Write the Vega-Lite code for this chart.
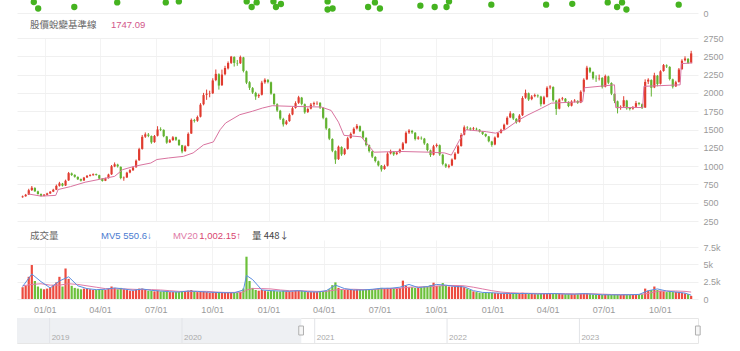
{
"$schema":"https://vega.github.io/schema/vega-lite/v6.json",
"padding":{"left":16,"top":0,"right":0,"bottom":0},
"background":"white",
"bounds":"flush",
"spacing":19,
"config":{"view":{"stroke":null},"axis":{"domain":false,"ticks":false,"title":null,"labelOverlap":false,"labelFont":"Liberation Sans","labelFontSize":9,"labelColor":"#9a9a9a","gridColor":"#f0f0f0","gridWidth":1}},
"datasets":{
"k":[
{"d":"2020-11-26","o":575,"h":598,"l":568,"c":586,"v":1700},
{"d":"2020-12-01","o":588,"h":620,"l":582,"c":608,"v":1900},
{"d":"2020-12-06","o":610,"h":690,"l":605,"c":670,"v":3200},
{"d":"2020-12-11","o":672,"h":728,"l":660,"c":705,"v":4900},
{"d":"2020-12-16","o":700,"h":712,"l":648,"c":656,"v":2600},
{"d":"2020-12-21","o":655,"h":664,"l":610,"c":619,"v":1800},
{"d":"2020-12-26","o":618,"h":626,"l":585,"c":592,"v":1500},
{"d":"2020-12-31","o":594,"h":618,"l":588,"c":610,"v":1400},
{"d":"2021-01-05","o":608,"h":636,"l":600,"c":627,"v":1500},
{"d":"2021-01-10","o":626,"h":660,"l":620,"c":650,"v":1700},
{"d":"2021-01-15","o":652,"h":690,"l":645,"c":677,"v":2000},
{"d":"2021-01-20","o":678,"h":748,"l":672,"c":730,"v":2400},
{"d":"2021-01-25","o":732,"h":785,"l":720,"c":764,"v":3200},
{"d":"2021-01-30","o":760,"h":770,"l":722,"c":733,"v":1800},
{"d":"2021-02-04","o":735,"h":815,"l":728,"c":800,"v":4400},
{"d":"2021-02-09","o":805,"h":920,"l":798,"c":904,"v":2900},
{"d":"2021-02-14","o":900,"h":912,"l":866,"c":878,"v":1900},
{"d":"2021-02-19","o":880,"h":888,"l":842,"c":854,"v":1600},
{"d":"2021-02-24","o":852,"h":860,"l":810,"c":820,"v":1500},
{"d":"2021-03-01","o":822,"h":830,"l":790,"c":801,"v":1400},
{"d":"2021-03-06","o":803,"h":852,"l":798,"c":843,"v":1500},
{"d":"2021-03-11","o":845,"h":878,"l":838,"c":867,"v":1500},
{"d":"2021-03-16","o":866,"h":890,"l":858,"c":878,"v":1400},
{"d":"2021-03-21","o":876,"h":900,"l":868,"c":889,"v":1300},
{"d":"2021-03-26","o":890,"h":898,"l":870,"c":878,"v":1300},
{"d":"2021-03-31","o":876,"h":882,"l":822,"c":830,"v":1400},
{"d":"2021-04-05","o":828,"h":836,"l":788,"c":797,"v":1300},
{"d":"2021-04-10","o":800,"h":842,"l":795,"c":832,"v":1300},
{"d":"2021-04-15","o":835,"h":896,"l":830,"c":885,"v":1500},
{"d":"2021-04-20","o":888,"h":1015,"l":880,"c":998,"v":1800},
{"d":"2021-04-25","o":995,"h":1050,"l":985,"c":1025,"v":1600},
{"d":"2021-04-30","o":1020,"h":1032,"l":980,"c":997,"v":1400},
{"d":"2021-05-05","o":990,"h":996,"l":820,"c":837,"v":1600},
{"d":"2021-05-10","o":835,"h":858,"l":800,"c":842,"v":1400},
{"d":"2021-05-15","o":845,"h":922,"l":838,"c":910,"v":1300},
{"d":"2021-05-20","o":912,"h":958,"l":902,"c":945,"v":1200},
{"d":"2021-05-25","o":943,"h":995,"l":935,"c":981,"v":1200},
{"d":"2021-05-30","o":984,"h":1090,"l":978,"c":1074,"v":1300},
{"d":"2021-06-04","o":1080,"h":1250,"l":1072,"c":1231,"v":1500},
{"d":"2021-06-09","o":1235,"h":1425,"l":1225,"c":1400,"v":1500},
{"d":"2021-06-14","o":1402,"h":1460,"l":1385,"c":1434,"v":1300},
{"d":"2021-06-19","o":1430,"h":1452,"l":1395,"c":1414,"v":1200},
{"d":"2021-06-24","o":1410,"h":1418,"l":1305,"c":1324,"v":1200},
{"d":"2021-06-29","o":1328,"h":1425,"l":1318,"c":1411,"v":1100},
{"d":"2021-07-04","o":1415,"h":1545,"l":1405,"c":1500,"v":1200},
{"d":"2021-07-09","o":1505,"h":1530,"l":1478,"c":1497,"v":1100},
{"d":"2021-07-14","o":1495,"h":1502,"l":1395,"c":1409,"v":1100},
{"d":"2021-07-19","o":1405,"h":1412,"l":1305,"c":1321,"v":1100},
{"d":"2021-07-24","o":1325,"h":1370,"l":1315,"c":1353,"v":1000},
{"d":"2021-07-29","o":1355,"h":1410,"l":1345,"c":1393,"v":1000},
{"d":"2021-08-03","o":1395,"h":1402,"l":1345,"c":1360,"v":1000},
{"d":"2021-08-08","o":1358,"h":1365,"l":1275,"c":1288,"v":1000},
{"d":"2021-08-13","o":1285,"h":1290,"l":1175,"c":1200,"v":1100},
{"d":"2021-08-18","o":1205,"h":1285,"l":1195,"c":1270,"v":1100},
{"d":"2021-08-23","o":1275,"h":1460,"l":1268,"c":1440,"v":1200},
{"d":"2021-08-28","o":1445,"h":1650,"l":1440,"c":1631,"v":1300},
{"d":"2021-09-02","o":1628,"h":1645,"l":1595,"c":1617,"v":1100},
{"d":"2021-09-07","o":1620,"h":1690,"l":1605,"c":1670,"v":1000},
{"d":"2021-09-12","o":1675,"h":1860,"l":1665,"c":1839,"v":1100},
{"d":"2021-09-17","o":1845,"h":2000,"l":1830,"c":1970,"v":1100},
{"d":"2021-09-22","o":1975,"h":2045,"l":1905,"c":1990,"v":1000},
{"d":"2021-09-27","o":1985,"h":2030,"l":1940,"c":1990,"v":900},
{"d":"2021-10-02","o":1995,"h":2200,"l":1985,"c":2170,"v":1000},
{"d":"2021-10-07","o":2175,"h":2320,"l":2160,"c":2260,"v":1000},
{"d":"2021-10-12","o":2255,"h":2268,"l":2045,"c":2100,"v":1000},
{"d":"2021-10-17","o":2105,"h":2318,"l":2095,"c":2250,"v":900},
{"d":"2021-10-22","o":2255,"h":2370,"l":2240,"c":2340,"v":900},
{"d":"2021-10-27","o":2335,"h":2430,"l":2320,"c":2408,"v":900},
{"d":"2021-11-01","o":2410,"h":2505,"l":2395,"c":2495,"v":900},
{"d":"2021-11-06","o":2490,"h":2500,"l":2360,"c":2410,"v":900},
{"d":"2021-11-11","o":2405,"h":2450,"l":2370,"c":2400,"v":900},
{"d":"2021-11-16","o":2405,"h":2510,"l":2395,"c":2490,"v":1000},
{"d":"2021-11-21","o":2485,"h":2492,"l":2280,"c":2300,"v":1500},
{"d":"2021-11-26","o":2295,"h":2305,"l":2120,"c":2140,"v":6100},
{"d":"2021-12-01","o":2145,"h":2160,"l":2040,"c":2070,"v":2600},
{"d":"2021-12-06","o":2065,"h":2080,"l":1985,"c":2005,"v":1600},
{"d":"2021-12-11","o":2000,"h":2015,"l":1905,"c":1950,"v":1300},
{"d":"2021-12-16","o":1955,"h":1990,"l":1930,"c":1970,"v":1200},
{"d":"2021-12-21","o":1975,"h":2165,"l":1965,"c":2140,"v":1300},
{"d":"2021-12-26","o":2145,"h":2200,"l":2125,"c":2180,"v":1200},
{"d":"2021-12-31","o":2175,"h":2190,"l":2130,"c":2150,"v":1100},
{"d":"2022-01-05","o":2145,"h":2155,"l":1975,"c":1990,"v":1200},
{"d":"2022-01-10","o":1985,"h":1995,"l":1830,"c":1850,"v":1200},
{"d":"2022-01-15","o":1845,"h":1858,"l":1740,"c":1760,"v":1100},
{"d":"2022-01-20","o":1755,"h":1768,"l":1630,"c":1650,"v":1100},
{"d":"2022-01-25","o":1645,"h":1660,"l":1540,"c":1570,"v":1200},
{"d":"2022-01-30","o":1575,"h":1630,"l":1560,"c":1610,"v":1100},
{"d":"2022-02-04","o":1615,"h":1720,"l":1605,"c":1700,"v":1100},
{"d":"2022-02-09","o":1705,"h":1810,"l":1695,"c":1790,"v":1100},
{"d":"2022-02-14","o":1795,"h":1885,"l":1785,"c":1860,"v":1200},
{"d":"2022-02-19","o":1865,"h":1960,"l":1850,"c":1940,"v":1200},
{"d":"2022-02-24","o":1935,"h":1945,"l":1830,"c":1850,"v":1200},
{"d":"2022-03-01","o":1845,"h":1855,"l":1715,"c":1735,"v":1100},
{"d":"2022-03-06","o":1740,"h":1800,"l":1725,"c":1780,"v":1000},
{"d":"2022-03-11","o":1785,"h":1862,"l":1775,"c":1840,"v":1000},
{"d":"2022-03-16","o":1845,"h":1880,"l":1820,"c":1861,"v":1000},
{"d":"2022-03-21","o":1858,"h":1885,"l":1835,"c":1861,"v":1000},
{"d":"2022-03-26","o":1865,"h":1872,"l":1780,"c":1800,"v":1000},
{"d":"2022-03-31","o":1795,"h":1805,"l":1640,"c":1660,"v":1100},
{"d":"2022-04-05","o":1655,"h":1665,"l":1495,"c":1515,"v":1200},
{"d":"2022-04-10","o":1510,"h":1520,"l":1355,"c":1375,"v":1400},
{"d":"2022-04-15","o":1370,"h":1380,"l":1190,"c":1210,"v":2000},
{"d":"2022-04-20","o":1205,"h":1215,"l":1030,"c":1090,"v":2400},
{"d":"2022-04-25","o":1095,"h":1280,"l":1085,"c":1265,"v":1600},
{"d":"2022-04-30","o":1260,"h":1270,"l":1140,"c":1160,"v":1300},
{"d":"2022-05-05","o":1165,"h":1248,"l":1150,"c":1230,"v":1300},
{"d":"2022-05-10","o":1235,"h":1400,"l":1225,"c":1380,"v":1300},
{"d":"2022-05-15","o":1385,"h":1460,"l":1375,"c":1440,"v":1300},
{"d":"2022-05-20","o":1445,"h":1530,"l":1435,"c":1510,"v":1300},
{"d":"2022-05-25","o":1515,"h":1575,"l":1500,"c":1550,"v":1400},
{"d":"2022-05-30","o":1545,"h":1555,"l":1465,"c":1480,"v":1300},
{"d":"2022-06-04","o":1475,"h":1485,"l":1370,"c":1390,"v":1300},
{"d":"2022-06-09","o":1385,"h":1395,"l":1270,"c":1290,"v":1300},
{"d":"2022-06-14","o":1285,"h":1295,"l":1185,"c":1205,"v":1300},
{"d":"2022-06-19","o":1200,"h":1210,"l":1110,"c":1130,"v":1400},
{"d":"2022-06-24","o":1125,"h":1135,"l":1050,"c":1070,"v":1400},
{"d":"2022-06-29","o":1065,"h":1075,"l":995,"c":1010,"v":1500},
{"d":"2022-07-04","o":1005,"h":1015,"l":925,"c":955,"v":1600},
{"d":"2022-07-09","o":960,"h":1020,"l":950,"c":1000,"v":1500},
{"d":"2022-07-14","o":1005,"h":1190,"l":995,"c":1170,"v":1600},
{"d":"2022-07-19","o":1175,"h":1225,"l":1160,"c":1200,"v":1600},
{"d":"2022-07-24","o":1195,"h":1205,"l":1140,"c":1160,"v":1500},
{"d":"2022-07-29","o":1165,"h":1200,"l":1150,"c":1185,"v":1500},
{"d":"2022-08-03","o":1190,"h":1240,"l":1175,"c":1225,"v":1600},
{"d":"2022-08-08","o":1230,"h":1330,"l":1220,"c":1310,"v":2650},
{"d":"2022-08-13","o":1315,"h":1475,"l":1305,"c":1455,"v":1900},
{"d":"2022-08-18","o":1460,"h":1505,"l":1440,"c":1485,"v":1700},
{"d":"2022-08-23","o":1480,"h":1495,"l":1440,"c":1460,"v":1700},
{"d":"2022-08-28","o":1455,"h":1465,"l":1350,"c":1370,"v":1600},
{"d":"2022-09-02","o":1375,"h":1410,"l":1360,"c":1390,"v":1600},
{"d":"2022-09-07","o":1385,"h":1405,"l":1360,"c":1380,"v":1700},
{"d":"2022-09-12","o":1375,"h":1385,"l":1290,"c":1310,"v":1800},
{"d":"2022-09-17","o":1305,"h":1315,"l":1200,"c":1220,"v":1800},
{"d":"2022-09-22","o":1215,"h":1225,"l":1125,"c":1150,"v":2000},
{"d":"2022-09-27","o":1155,"h":1290,"l":1145,"c":1270,"v":2350},
{"d":"2022-10-02","o":1275,"h":1310,"l":1255,"c":1290,"v":1900},
{"d":"2022-10-07","o":1285,"h":1295,"l":1140,"c":1160,"v":1900},
{"d":"2022-10-12","o":1155,"h":1165,"l":1010,"c":1030,"v":2300},
{"d":"2022-10-17","o":1025,"h":1040,"l":975,"c":995,"v":1900},
{"d":"2022-10-22","o":990,"h":1025,"l":970,"c":1005,"v":1800},
{"d":"2022-10-27","o":1008,"h":1105,"l":1000,"c":1090,"v":1800},
{"d":"2022-11-01","o":1095,"h":1190,"l":1085,"c":1170,"v":1800},
{"d":"2022-11-06","o":1175,"h":1290,"l":1165,"c":1270,"v":1900},
{"d":"2022-11-11","o":1275,"h":1450,"l":1265,"c":1425,"v":1900},
{"d":"2022-11-16","o":1430,"h":1555,"l":1420,"c":1530,"v":1700},
{"d":"2022-11-21","o":1525,"h":1545,"l":1495,"c":1520,"v":1500},
{"d":"2022-11-26","o":1515,"h":1530,"l":1485,"c":1500,"v":1300},
{"d":"2022-12-01","o":1505,"h":1535,"l":1490,"c":1515,"v":1100},
{"d":"2022-12-06","o":1510,"h":1525,"l":1485,"c":1500,"v":1000},
{"d":"2022-12-11","o":1498,"h":1505,"l":1460,"c":1473,"v":900},
{"d":"2022-12-16","o":1470,"h":1478,"l":1425,"c":1440,"v":900},
{"d":"2022-12-21","o":1438,"h":1445,"l":1395,"c":1410,"v":900},
{"d":"2022-12-26","o":1405,"h":1412,"l":1325,"c":1340,"v":900},
{"d":"2022-12-31","o":1335,"h":1345,"l":1265,"c":1290,"v":900},
{"d":"2023-01-05","o":1295,"h":1405,"l":1285,"c":1390,"v":850},
{"d":"2023-01-10","o":1395,"h":1465,"l":1385,"c":1450,"v":850},
{"d":"2023-01-15","o":1455,"h":1510,"l":1445,"c":1495,"v":800},
{"d":"2023-01-20","o":1500,"h":1580,"l":1490,"c":1565,"v":800},
{"d":"2023-01-25","o":1570,"h":1680,"l":1560,"c":1660,"v":800},
{"d":"2023-01-30","o":1665,"h":1750,"l":1655,"c":1720,"v":800},
{"d":"2023-02-04","o":1715,"h":1725,"l":1630,"c":1650,"v":800},
{"d":"2023-02-09","o":1645,"h":1655,"l":1580,"c":1600,"v":750},
{"d":"2023-02-14","o":1605,"h":1710,"l":1595,"c":1690,"v":800},
{"d":"2023-02-19","o":1695,"h":1955,"l":1685,"c":1930,"v":900},
{"d":"2023-02-24","o":1935,"h":2045,"l":1920,"c":2000,"v":850},
{"d":"2023-03-01","o":1995,"h":2005,"l":1890,"c":1910,"v":750},
{"d":"2023-03-06","o":1915,"h":1970,"l":1900,"c":1950,"v":750},
{"d":"2023-03-11","o":1955,"h":1990,"l":1940,"c":1970,"v":700},
{"d":"2023-03-16","o":1965,"h":1980,"l":1935,"c":1955,"v":700},
{"d":"2023-03-21","o":1950,"h":1960,"l":1815,"c":1845,"v":750},
{"d":"2023-03-26","o":1850,"h":1960,"l":1840,"c":1940,"v":750},
{"d":"2023-03-31","o":1945,"h":2090,"l":1935,"c":2070,"v":800},
{"d":"2023-04-05","o":2075,"h":2105,"l":2050,"c":2087,"v":750},
{"d":"2023-04-10","o":2080,"h":2090,"l":1880,"c":1900,"v":800},
{"d":"2023-04-15","o":1895,"h":1905,"l":1700,"c":1780,"v":800},
{"d":"2023-04-20","o":1785,"h":1925,"l":1775,"c":1910,"v":750},
{"d":"2023-04-25","o":1915,"h":1945,"l":1895,"c":1925,"v":700},
{"d":"2023-04-30","o":1920,"h":1930,"l":1865,"c":1880,"v":700},
{"d":"2023-05-05","o":1875,"h":1885,"l":1805,"c":1820,"v":700},
{"d":"2023-05-10","o":1825,"h":1900,"l":1815,"c":1880,"v":700},
{"d":"2023-05-15","o":1885,"h":1915,"l":1870,"c":1895,"v":700},
{"d":"2023-05-20","o":1890,"h":1900,"l":1850,"c":1865,"v":700},
{"d":"2023-05-25","o":1870,"h":2035,"l":1860,"c":2015,"v":750},
{"d":"2023-05-30","o":2020,"h":2200,"l":2010,"c":2180,"v":800},
{"d":"2023-06-04","o":2185,"h":2370,"l":2175,"c":2345,"v":850},
{"d":"2023-06-09","o":2340,"h":2355,"l":2270,"c":2290,"v":700},
{"d":"2023-06-14","o":2285,"h":2295,"l":2180,"c":2200,"v":650},
{"d":"2023-06-19","o":2205,"h":2240,"l":2150,"c":2200,"v":600},
{"d":"2023-06-24","o":2195,"h":2250,"l":2170,"c":2200,"v":600},
{"d":"2023-06-29","o":2205,"h":2215,"l":2060,"c":2080,"v":600},
{"d":"2023-07-04","o":2085,"h":2250,"l":2075,"c":2230,"v":650},
{"d":"2023-07-09","o":2225,"h":2235,"l":2120,"c":2140,"v":600},
{"d":"2023-07-14","o":2135,"h":2145,"l":1970,"c":1990,"v":600},
{"d":"2023-07-19","o":1985,"h":1995,"l":1860,"c":1890,"v":600},
{"d":"2023-07-24","o":1885,"h":1895,"l":1720,"c":1790,"v":600},
{"d":"2023-07-29","o":1795,"h":1830,"l":1770,"c":1810,"v":600},
{"d":"2023-08-03","o":1815,"h":1955,"l":1805,"c":1900,"v":650},
{"d":"2023-08-08","o":1895,"h":1905,"l":1770,"c":1790,"v":600},
{"d":"2023-08-13","o":1795,"h":1800,"l":1760,"c":1780,"v":600},
{"d":"2023-08-18","o":1785,"h":1820,"l":1770,"c":1805,"v":650},
{"d":"2023-08-23","o":1810,"h":1890,"l":1800,"c":1860,"v":700},
{"d":"2023-08-28","o":1865,"h":1870,"l":1830,"c":1850,"v":650},
{"d":"2023-09-02","o":1845,"h":1855,"l":1780,"c":1793,"v":700},
{"d":"2023-09-07","o":1800,"h":2185,"l":1795,"c":2150,"v":1500},
{"d":"2023-09-12","o":2155,"h":2200,"l":2120,"c":2180,"v":1200},
{"d":"2023-09-17","o":2175,"h":2185,"l":1950,"c":2070,"v":1300},
{"d":"2023-09-22","o":2075,"h":2275,"l":2065,"c":2240,"v":1800},
{"d":"2023-09-27","o":2235,"h":2245,"l":2090,"c":2120,"v":1300},
{"d":"2023-10-02","o":2125,"h":2310,"l":2115,"c":2295,"v":1200},
{"d":"2023-10-07","o":2300,"h":2395,"l":2290,"c":2380,"v":1100},
{"d":"2023-10-12","o":2375,"h":2390,"l":2340,"c":2362,"v":1000},
{"d":"2023-10-17","o":2355,"h":2365,"l":2170,"c":2190,"v":1100},
{"d":"2023-10-22","o":2185,"h":2195,"l":2060,"c":2085,"v":1000},
{"d":"2023-10-27","o":2090,"h":2165,"l":2080,"c":2145,"v":1000},
{"d":"2023-11-01","o":2150,"h":2340,"l":2140,"c":2320,"v":1000},
{"d":"2023-11-06","o":2325,"h":2460,"l":2315,"c":2440,"v":900},
{"d":"2023-11-11","o":2445,"h":2500,"l":2430,"c":2470,"v":800},
{"d":"2023-11-16","o":2465,"h":2475,"l":2395,"c":2410,"v":700},
{"d":"2023-11-21","o":2415,"h":2575,"l":2405,"c":2540,"v":450}
],
"ma":[
{"d":"2020-12-05","m":620},{"d":"2020-12-26","m":590},{"d":"2021-01-19","m":600},{"d":"2021-01-23","m":680},{"d":"2021-02-12","m":720},{"d":"2021-03-08","m":780},{"d":"2021-04-01","m":820},{"d":"2021-04-25","m":860},{"d":"2021-05-08","m":951},{"d":"2021-05-27","m":997},{"d":"2021-06-23","m":1042},{"d":"2021-07-03","m":1090},{"d":"2021-07-22","m":1111},{"d":"2021-08-15","m":1133},{"d":"2021-08-31","m":1180},{"d":"2021-09-17","m":1290},{"d":"2021-10-03","m":1330},{"d":"2021-10-14","m":1497},{"d":"2021-10-23","m":1589},{"d":"2021-11-15","m":1702},{"d":"2021-12-06","m":1750},{"d":"2021-12-22","m":1793},{"d":"2022-01-07","m":1825},{"d":"2022-02-08","m":1816},{"d":"2022-03-28","m":1807},{"d":"2022-04-13","m":1760},{"d":"2022-04-25","m":1600},{"d":"2022-05-04","m":1420},{"d":"2022-06-01","m":1400},{"d":"2022-06-22","m":1190},{"d":"2022-08-04","m":1200},{"d":"2022-09-21","m":1190},{"d":"2022-10-15","m":1180},{"d":"2022-10-26","m":1150},{"d":"2022-11-08","m":1350},{"d":"2022-11-19","m":1497},{"d":"2022-12-22","m":1470},{"d":"2023-01-06","m":1450},{"d":"2023-01-22","m":1500},{"d":"2023-02-13","m":1630},{"d":"2023-02-28","m":1700},{"d":"2023-03-22","m":1790},{"d":"2023-04-07","m":1860},{"d":"2023-05-28","m":1880},{"d":"2023-05-31","m":2070},{"d":"2023-07-19","m":2110},{"d":"2023-07-21","m":1800},{"d":"2023-09-03","m":1800},{"d":"2023-09-05","m":2090},{"d":"2023-11-03","m":2110},{"d":"2023-11-05","m":2400},{"d":"2023-11-23","m":2410}
],
"mv":[
{"d":"2020-11-26","m5":1800,"m20":1900},{"d":"2020-12-11","m5":3600,"m20":2100},{"d":"2020-12-26","m5":2500,"m20":2200},{"d":"2021-01-10","m5":1600,"m20":2000},{"d":"2021-01-25","m5":2600,"m20":2000},{"d":"2021-02-09","m5":3200,"m20":2200},{"d":"2021-02-24","m5":1900,"m20":2100},{"d":"2021-03-11","m5":1500,"m20":1900},{"d":"2021-03-26","m5":1350,"m20":1700},{"d":"2021-04-10","m5":1400,"m20":1500},{"d":"2021-04-25","m5":1600,"m20":1450},{"d":"2021-05-10","m5":1450,"m20":1450},{"d":"2021-05-25","m5":1250,"m20":1400},{"d":"2021-06-09","m5":1450,"m20":1350},{"d":"2021-06-24","m5":1250,"m20":1350},{"d":"2021-07-09","m5":1150,"m20":1300},{"d":"2021-07-24","m5":1050,"m20":1200},{"d":"2021-08-08","m5":1000,"m20":1100},{"d":"2021-08-23","m5":1150,"m20":1100},{"d":"2021-09-07","m5":1100,"m20":1100},{"d":"2021-09-22","m5":1000,"m20":1100},{"d":"2021-10-07","m5":950,"m20":1000},{"d":"2021-10-22","m5":900,"m20":950},{"d":"2021-11-06","m5":900,"m20":950},{"d":"2021-11-21","m5":1300,"m20":1000},{"d":"2021-11-26","m5":3400,"m20":1300},{"d":"2021-12-06","m5":2800,"m20":1500},{"d":"2021-12-21","m5":1300,"m20":1500},{"d":"2022-01-05","m5":1200,"m20":1450},{"d":"2022-01-20","m5":1150,"m20":1300},{"d":"2022-02-04","m5":1100,"m20":1200},{"d":"2022-02-19","m5":1200,"m20":1200},{"d":"2022-03-06","m5":1050,"m20":1150},{"d":"2022-03-21","m5":1000,"m20":1100},{"d":"2022-04-05","m5":1200,"m20":1100},{"d":"2022-04-20","m5":2000,"m20":1300},{"d":"2022-05-05","m5":1500,"m20":1400},{"d":"2022-05-20","m5":1300,"m20":1400},{"d":"2022-06-04","m5":1300,"m20":1350},{"d":"2022-06-19","m5":1400,"m20":1350},{"d":"2022-07-04","m5":1550,"m20":1450},{"d":"2022-07-19","m5":1550,"m20":1500},{"d":"2022-08-03","m5":1700,"m20":1550},{"d":"2022-08-18","m5":2100,"m20":1700},{"d":"2022-09-02","m5":1650,"m20":1750},{"d":"2022-09-17","m5":1800,"m20":1750},{"d":"2022-10-02","m5":2100,"m20":1850},{"d":"2022-10-17","m5":2000,"m20":1950},{"d":"2022-11-01","m5":1800,"m20":1950},{"d":"2022-11-16","m5":1750,"m20":1900},{"d":"2022-12-01","m5":1200,"m20":1700},{"d":"2022-12-16","m5":950,"m20":1450},{"d":"2022-12-31","m5":900,"m20":1200},{"d":"2023-01-15","m5":820,"m20":1000},{"d":"2023-01-30","m5":800,"m20":900},{"d":"2023-02-14","m5":790,"m20":850},{"d":"2023-03-01","m5":800,"m20":820},{"d":"2023-03-16","m5":720,"m20":800},{"d":"2023-03-31","m5":770,"m20":780},{"d":"2023-04-15","m5":780,"m20":780},{"d":"2023-04-30","m5":710,"m20":760},{"d":"2023-05-15","m5":700,"m20":740},{"d":"2023-05-30","m5":780,"m20":740},{"d":"2023-06-14","m5":700,"m20":750},{"d":"2023-06-29","m5":610,"m20":700},{"d":"2023-07-14","m5":600,"m20":650},{"d":"2023-07-29","m5":600,"m20":620},{"d":"2023-08-13","m5":620,"m20":620},{"d":"2023-08-28","m5":660,"m20":640},{"d":"2023-09-12","m5":1200,"m20":800},{"d":"2023-09-27","m5":1450,"m20":1100},{"d":"2023-10-12","m5":1150,"m20":1150},{"d":"2023-10-27","m5":1000,"m20":1150},{"d":"2023-11-11","m5":850,"m20":1100},{"d":"2023-11-21","m5":550,"m20":1000}
],
"dots":[
{"d":"2020-12-22","v":11},{"d":"2020-12-29","v":4.5},{"d":"2021-02-25","v":6},{"d":"2021-05-05","v":10.6},{"d":"2021-07-22","v":10.6},{"d":"2021-08-12","v":11.6},{"d":"2021-11-29","v":11.6},{"d":"2021-12-07","v":6},{"d":"2021-12-15","v":10.6},{"d":"2022-01-11","v":11.6},{"d":"2022-01-15","v":6},{"d":"2022-01-23","v":9},{"d":"2022-04-08","v":3.5},{"d":"2022-04-16","v":4.5},{"d":"2022-04-08","v":11.6},{"d":"2022-06-12","v":6},{"d":"2022-06-23","v":10.6},{"d":"2022-07-01","v":4.5},{"d":"2022-09-04","v":7.3},{"d":"2022-09-27","v":6},{"d":"2022-10-16","v":6},{"d":"2022-10-20","v":11.6},{"d":"2022-12-27","v":8.3},{"d":"2023-03-25","v":8.3},{"d":"2023-05-06","v":9.2},{"d":"2023-07-02","v":10.6},{"d":"2023-07-17","v":6},{"d":"2023-07-25","v":10.6},{"d":"2023-08-01","v":3.5},{"d":"2023-10-24","v":8.3}
],
"years":[{"d":"2019-01-01","t":"2019"},{"d":"2020-01-01","t":"2020"},{"d":"2021-01-01","t":"2021"},{"d":"2022-01-01","t":"2022"},{"d":"2023-01-01","t":"2023"}],
"shade":[{"a":"2018-10-03","b":"2020-11-25"}],
"handles":[{"a":"2020-11-18","b":"2020-12-01"},{"a":"2023-11-17","b":"2023-11-30"}]
},
"vconcat":[
{
"width":681,"height":19,
"data":{"name":"dots"},
"mark":{"type":"point","filled":true,"clip":true,"size":40,"opacity":1,"color":"#45b320"},
"encoding":{
"x":{"field":"d","type":"temporal","scale":{"type":"utc","domain":[{"year":2020,"month":11,"date":25,"utc":true},{"year":2023,"month":11,"date":24,"utc":true}]},"axis":null},
"y":{"field":"v","type":"quantitative","scale":{"domain":[-6,13],"nice":false,"zero":false},"axis":{"orient":"right","values":[0],"grid":true,"labelPadding":5}}
}
},
{
"width":681,"height":183,
"layer":[
{"data":{"name":"k"},"mark":{"type":"rule","strokeWidth":1},
"encoding":{
"x":{"field":"d","type":"temporal","scale":{"type":"utc","domain":[{"year":2020,"month":11,"date":25,"utc":true},{"year":2023,"month":11,"date":24,"utc":true}]},"axis":{"orient":"bottom","labels":false,"grid":true,"gridColor":"#f3f3f3","values":[{"year":2021,"month":1,"date":1,"utc":true},{"year":2021,"month":4,"date":1,"utc":true},{"year":2021,"month":7,"date":1,"utc":true},{"year":2021,"month":10,"date":1,"utc":true},{"year":2022,"month":1,"date":1,"utc":true},{"year":2022,"month":4,"date":1,"utc":true},{"year":2022,"month":7,"date":1,"utc":true},{"year":2022,"month":10,"date":1,"utc":true},{"year":2023,"month":1,"date":1,"utc":true},{"year":2023,"month":4,"date":1,"utc":true},{"year":2023,"month":7,"date":1,"utc":true},{"year":2023,"month":10,"date":1,"utc":true}]}},
"y":{"field":"l","type":"quantitative","scale":{"domain":[250,2750],"nice":false,"zero":false},"axis":{"orient":"right","values":[250,500,750,1000,1250,1500,1750,2000,2250,2500,2750],"format":"d","labelOverlap":false,"tickCount":20,"grid":true,"labelPadding":5}},
"y2":{"field":"h"},
"color":{"condition":{"test":"datum.c >= datum.o","value":"#e03b2f"},"value":"#62b230"}
}},
{"data":{"name":"k"},"mark":{"type":"bar","width":2.2},
"encoding":{
"x":{"field":"d","type":"temporal"},
"y":{"field":"o","type":"quantitative"},
"y2":{"field":"c"},
"color":{"condition":{"test":"datum.c >= datum.o","value":"#e03b2f"},"value":"#62b230"}
}},
{"data":{"name":"ma"},"mark":{"type":"line","strokeWidth":1,"color":"#d9739f"},
"encoding":{"x":{"field":"d","type":"temporal"},"y":{"field":"m","type":"quantitative"}}},
{"data":{"values":[{}]},"mark":{"type":"text","text":"股價蛻變基準線","align":"left","baseline":"middle","font":"Noto Sans CJK TC","fontSize":9.5,"color":"#666666"},
"encoding":{"x":{"datum":{"year":2020,"month":12,"date":8,"utc":true},"type":"temporal"},"y":{"datum":2928,"type":"quantitative"}}},
{"data":{"values":[{}]},"mark":{"type":"text","text":"1747.09","align":"left","baseline":"middle","font":"Liberation Sans","fontSize":9.5,"color":"#d2578a"},
"encoding":{"x":{"datum":{"year":2021,"month":4,"date":19,"utc":true},"type":"temporal"},"y":{"datum":2928,"type":"quantitative"}}}
]
},
{
"width":681,"height":59,
"layer":[
{"data":{"name":"k"},"mark":{"type":"bar","width":2.2},
"encoding":{
"x":{"field":"d","type":"temporal","scale":{"type":"utc","domain":[{"year":2020,"month":11,"date":25,"utc":true},{"year":2023,"month":11,"date":24,"utc":true}]},"axis":{"orient":"bottom","format":"%m/%d","labelPadding":6,"grid":true,"gridColor":"#f3f3f3","values":[{"year":2021,"month":1,"date":1,"utc":true},{"year":2021,"month":4,"date":1,"utc":true},{"year":2021,"month":7,"date":1,"utc":true},{"year":2021,"month":10,"date":1,"utc":true},{"year":2022,"month":1,"date":1,"utc":true},{"year":2022,"month":4,"date":1,"utc":true},{"year":2022,"month":7,"date":1,"utc":true},{"year":2022,"month":10,"date":1,"utc":true},{"year":2023,"month":1,"date":1,"utc":true},{"year":2023,"month":4,"date":1,"utc":true},{"year":2023,"month":7,"date":1,"utc":true},{"year":2023,"month":10,"date":1,"utc":true}]}},
"y":{"field":"v","type":"quantitative","scale":{"domain":[0,8510],"nice":false,"zero":true},"axis":{"orient":"right","values":[0,2500,5000,7500],"labelExpr":"datum.value == 0 ? '0' : (datum.value / 1000) + 'k'","labelOverlap":false,"tickCount":20,"grid":true,"labelPadding":5}},
"color":{"condition":{"test":"datum.c >= datum.o","value":"#ec4b3f"},"value":"#6cc03a"}
}},
{"data":{"name":"mv"},"mark":{"type":"line","strokeWidth":1,"color":"#e07aa6"},
"encoding":{"x":{"field":"d","type":"temporal"},"y":{"field":"m20","type":"quantitative"}}},
{"data":{"name":"mv"},"mark":{"type":"line","strokeWidth":1,"color":"#5b8ee0"},
"encoding":{"x":{"field":"d","type":"temporal"},"y":{"field":"m5","type":"quantitative"}}},
{"data":{"values":[{}]},"mark":{"type":"text","text":"成交量","align":"left","baseline":"middle","font":"Noto Sans CJK TC","fontSize":9.5,"color":"#666666"},
"encoding":{"x":{"datum":{"year":2020,"month":12,"date":8,"utc":true},"type":"temporal"},"y":{"datum":9145,"type":"quantitative"}}},
{"data":{"values":[{}]},"mark":{"type":"text","text":"MV5 550.6↓","align":"left","baseline":"middle","font":"Liberation Sans","fontSize":9.5,"color":"#4a7bd0"},
"encoding":{"x":{"datum":{"year":2021,"month":4,"date":3,"utc":true},"type":"temporal"},"y":{"datum":9145,"type":"quantitative"}}},
{"data":{"values":[{}]},"mark":{"type":"text","text":"MV20","align":"left","baseline":"middle","font":"Liberation Sans","fontSize":9.5,"color":"#e07aa6"},
"encoding":{"x":{"datum":{"year":2021,"month":7,"date":29,"utc":true},"type":"temporal"},"y":{"datum":9145,"type":"quantitative"}}},
{"data":{"values":[{}]},"mark":{"type":"text","text":"1,002.15↑","align":"left","baseline":"middle","font":"Liberation Sans","fontSize":9.5,"color":"#d8456f"},
"encoding":{"x":{"datum":{"year":2021,"month":9,"date":10,"utc":true},"type":"temporal"},"y":{"datum":9145,"type":"quantitative"}}},
{"data":{"values":[{}]},"mark":{"type":"text","text":"量 448↓","align":"left","baseline":"middle","font":"Noto Sans CJK TC","fontSize":9.5,"color":"#444444"},
"encoding":{"x":{"datum":{"year":2021,"month":12,"date":5,"utc":true},"type":"temporal"},"y":{"datum":9145,"type":"quantitative"}}}
]
},
{
"width":681,"height":25,
"view":{"stroke":"#e6e6e6"},
"layer":[
{"data":{"name":"shade"},"mark":{"type":"rect","color":"#eef0f3"},
"encoding":{"x":{"field":"a","type":"temporal","scale":{"type":"utc","domain":[{"year":2018,"month":10,"date":3,"utc":true},{"year":2023,"month":11,"date":24,"utc":true}]},"axis":null},"x2":{"field":"b"}}},
{"data":{"name":"years"},"mark":{"type":"rule","color":"#e2e4e8","strokeWidth":1},
"encoding":{"x":{"field":"d","type":"temporal"}}},
{"data":{"name":"years"},"mark":{"type":"text","align":"left","baseline":"middle","dx":2,"font":"Liberation Sans","fontSize":8,"color":"#aaaaaa"},
"encoding":{"x":{"field":"d","type":"temporal"},"y":{"datum":0.22,"type":"quantitative","scale":{"domain":[0,1]},"axis":null},"text":{"field":"t"}}},
{"data":{"name":"handles"},"mark":{"type":"rect","color":"#f6f6f6","stroke":"#b0b0b0","strokeWidth":1},
"encoding":{"x":{"field":"a","type":"temporal"},"x2":{"field":"b"},"y":{"datum":0.32,"type":"quantitative"},"y2":{"datum":0.68}}}
]
}
]
}
